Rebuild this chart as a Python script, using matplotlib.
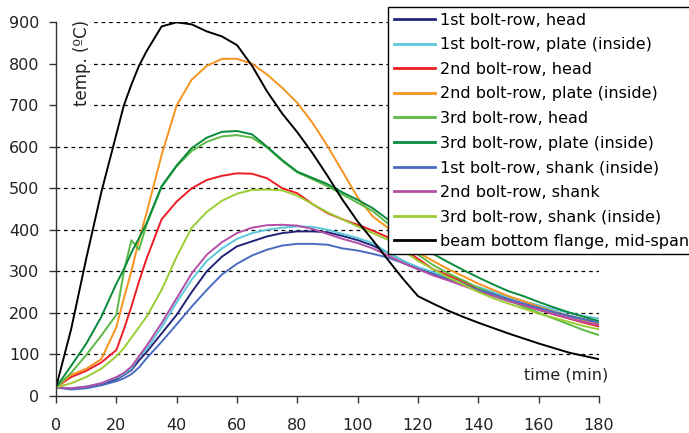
import matplotlib
matplotlib.use("Agg")
import matplotlib.pyplot as plt
from matplotlib.patches import Rectangle

time_min = [0, 5, 10, 15, 20, 22.5, 25, 27.5, 30, 35, 40, 45, 50, 55, 60, 65, 70, 75, 80, 85,
            90, 95, 100, 105, 110, 115, 120, 125, 130, 135, 140, 145, 150, 155, 160, 165,
            170, 175, 180]

row1_head = [20, 17, 20, 27, 40, 50, 62, 85, 105, 150, 195, 250, 300, 335, 360, 372, 384, 392, 396, 396,
             394, 385, 375, 362, 345, 325, 308, 295, 282, 268, 255, 244, 232, 222, 212, 202,
             193, 184, 176]
row1_plate = [20, 18, 22, 30, 43, 52, 65, 95, 112, 165, 225, 280, 325, 355, 378, 392, 400, 405, 408, 407,
              400, 390, 380, 368, 345, 325, 310, 298, 285, 272, 262, 250, 238, 228, 218, 208,
              200, 192, 186]
row2_head = [20, 45, 60, 80, 110, 160, 215, 275, 330, 425, 468, 500, 520, 530, 536, 535, 524, 500, 488, 462,
             440, 425, 412, 398, 382, 355, 330, 305, 290, 275, 258, 244, 231, 219, 207, 196,
             186, 176, 167]
row2_plate = [20, 50, 65, 88, 165, 235, 300, 375, 440, 580, 700, 762, 795, 812, 812, 800, 774, 742, 706, 658,
              602, 540, 478, 432, 405, 370, 345, 325, 305, 288, 270, 255, 240, 228, 215, 203,
              192, 182, 173]
row3_head = [20, 55, 98, 145, 195, 300, 375, 352, 412, 503, 553, 590, 612, 625, 628, 622, 598, 566, 538, 522,
             505, 485, 465, 445, 415, 375, 340, 315, 295, 278, 260, 245, 230, 215, 200, 186,
             172, 158, 146]
row3_plate = [20, 72, 125, 190, 270, 305, 345, 380, 415, 505, 555, 597, 622, 636, 638, 630, 600, 568, 540, 525,
              510, 490, 472, 452, 425, 392, 362, 342, 322, 303, 285, 268, 252, 240, 226, 213,
              201, 190, 180]
row1_shank = [20, 15, 18, 25, 35, 42, 52, 68, 90, 130, 172, 215, 255, 292, 318, 338, 352, 362, 366, 366,
              364, 355, 350, 342, 333, 320, 305, 292, 280, 268, 255, 245, 233, 222, 212, 202,
              192, 184, 176]
row2_shank = [20, 18, 22, 30, 45, 55, 70, 95, 120, 175, 235, 295, 340, 370, 392, 405, 411, 412, 410, 402,
              390, 378, 368, 355, 338, 320, 305, 290, 278, 265, 252, 240, 228, 218, 207, 197,
              187, 178, 170]
row3_shank = [20, 30, 45, 65, 95, 115, 140, 165, 190, 255, 335, 405, 443, 470, 487, 496, 497, 495, 482, 462,
              442, 425, 408, 392, 376, 350, 325, 305, 285, 268, 250, 235, 222, 210, 198, 188,
              178, 168, 160]
beam_flange = [20, 160, 330, 490, 630, 700, 750, 795, 830, 890, 900, 895, 878, 866, 845, 795, 733, 680, 635, 585,
               530, 472, 420, 375, 328, 282, 240, 222, 205, 190, 176, 163, 150, 138, 126, 115,
               104, 96, 88]

series = [
    ("1st bolt-row, head", row1_head, "#23237a"),
    ("1st bolt-row, plate (inside)", row1_plate, "#5bc8dc"),
    ("2nd bolt-row, head", row2_head, "#ee1c24"),
    ("2nd bolt-row, plate (inside)", row2_plate, "#f7941d"),
    ("3rd bolt-row, head", row3_head, "#5cb946"),
    ("3rd bolt-row, plate (inside)", row3_plate, "#0a8a3c"),
    ("1st bolt-row, shank (inside)", row1_shank, "#4a6cc0"),
    ("2nd bolt-row, shank", row2_shank, "#b24fa6"),
    ("3rd bolt-row, shank (inside)", row3_shank, "#9acd32"),
    ("beam bottom flange, mid-span", beam_flange, "#000000"),
]

x_ticks = [0, 20, 40, 60, 80, 100, 120, 140, 160, 180]
y_ticks = [0, 100, 200, 300, 400, 500, 600, 700, 800, 900]

fig = plt.figure(figsize=(6.89, 4.33), dpi=100)
ax = fig.add_axes([0.0813, 0.0861, 0.788, 0.8624])
ax.set_axisbelow(True)

for y in y_ticks[1:]:
    ax.axhline(y, color="black", linestyle=(0, (3, 3)), linewidth=0.9, zorder=0.5)

# white background behind the y-axis title
ax.add_patch(Rectangle((0.4, 640), 10.8, 275, facecolor="white", edgecolor="none", zorder=1))

for label, vals, col in series:
    ax.plot(time_min, vals, color=col, linewidth=1.4, label=label, zorder=2)

ax.set_xlim(0, 180)
ax.set_ylim(0, 900)
ax.set_xticks(x_ticks)
ax.set_yticks(y_ticks)
ax.tick_params(axis="both", direction="out", length=5, width=1, colors="#333333",
               labelsize=11.5, labelcolor="#222222")
ax.tick_params(axis="x", pad=11)
ax.tick_params(axis="y", pad=7)
for s in ["top", "right"]:
    ax.spines[s].set_visible(False)
for s in ["left", "bottom"]:
    ax.spines[s].set_color("#333333")
    ax.spines[s].set_linewidth(1)

fig.text(81.7 / 689, 1 - 20 / 433, "temp. (ºC)", rotation=90, ha="center", va="top",
         fontsize=12, color="#222222")
fig.text(566 / 689, 1 - 375 / 433, "time (min)", ha="center", va="center",
         fontsize=11.5, color="#222222")

leg = ax.legend(loc="upper left", bbox_to_anchor=(388 / 689, 1 - 7 / 433),
                bbox_transform=fig.transFigure, frameon=True, fancybox=False,
                fontsize=11.5, labelspacing=0.6, handlelength=2.6, handletextpad=0.3,
                borderpad=0.35, borderaxespad=0)
leg.get_frame().set_edgecolor("black")
leg.get_frame().set_linewidth(1)
leg.get_frame().set_alpha(1)
leg.set_zorder(5)
for h in leg.get_lines():
    h.set_linewidth(2)

fig.savefig("out.png", dpi=100)
